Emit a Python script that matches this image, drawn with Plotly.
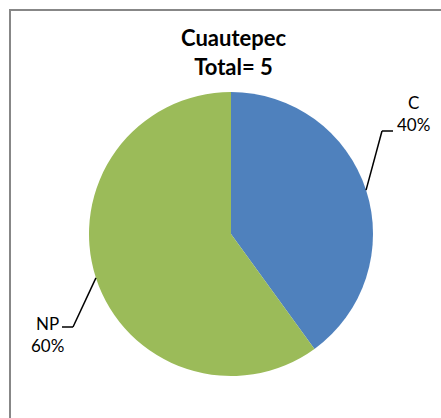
import math
import plotly.graph_objects as go

categories = ["C", "NP"]
values = [2, 3]
colors = ["#4F81BD", "#9BBB59"]
title_lines = ["Cuautepec", "Total= 5"]

W, H = 441, 418
OFF = 0
# pie geometry in window pixels
cx, cy, r = 231, 234, 142

def px(x):
    return (x - OFF) / W

def py(y):
    return 1 - (y - OFF) / H

fig = go.Figure()
fig.add_trace(go.Pie(
    labels=categories, values=values, sort=False, direction="clockwise",
    rotation=0, marker=dict(colors=colors, line=dict(width=0)),
    textinfo="none", hoverinfo="label+percent", showlegend=False,
    domain=dict(x=[px(cx - r), px(cx + r)], y=[py(cy + r), py(cy - r)]),
))

total = sum(values)
label_pos = {
    "C": dict(text_xy=(413, 114), elbow=(382, 131), end=(393, 131)),
    "NP": dict(text_xy=(47, 334), elbow=(73, 327), end=(62, 327)),
}
cum = 0
shapes = []
annotations = []
for cat, v in zip(categories, values):
    mid = (cum + v / 2) / total * 360
    cum += v
    sx = cx + r * math.sin(math.radians(mid))
    sy = cy - r * math.cos(math.radians(mid))
    lp = label_pos[cat]
    ex, ey = lp["elbow"]
    fx, fy = lp["end"]
    shapes.append(dict(type="line", xref="paper", yref="paper",
                       x0=px(sx), y0=py(sy), x1=px(ex), y1=py(ey),
                       line=dict(color="black", width=1.5)))
    shapes.append(dict(type="line", xref="paper", yref="paper",
                       x0=px(ex), y0=py(ey), x1=px(fx), y1=py(fy),
                       line=dict(color="black", width=1.5)))
    pct = round(v / total * 100)
    tx, ty = lp["text_xy"]
    annotations.append(dict(
        x=px(tx), y=py(ty), xref="paper", yref="paper",
        text=f"{cat}<br>{pct}%", showarrow=False, align="center",
        font=dict(family="Lato, Carlito, Calibri, sans-serif", size=17, color="black"),
        xanchor="center", yanchor="middle"))

annotations.append(dict(
    x=px(233), y=py(52), xref="paper", yref="paper",
    text="<b>" + "<br>".join(title_lines) + "</b>", showarrow=False,
    align="center", xanchor="center", yanchor="middle",
    font=dict(family="Lato, Carlito, Calibri, sans-serif", size=22, color="black")))

# chart border (extends beyond the visible area on right and bottom)
shapes.append(dict(type="rect", xref="paper", yref="paper",
                   x0=px(10), y0=-0.2, x1=1.2, y1=py(10),
                   line=dict(color="#878787", width=2), fillcolor="rgba(0,0,0,0)"))

fig.update_layout(
    width=W, height=H, margin=dict(l=0, r=0, t=0, b=0),
    paper_bgcolor="white", plot_bgcolor="white",
    shapes=shapes, annotations=annotations,
)
fig.write_html(
    "out.html",
    config={"displayModeBar": False},
    post_script="document.body.style.margin='0';document.body.style.overflow='hidden';"
                "document.documentElement.style.overflow='hidden';",
)
